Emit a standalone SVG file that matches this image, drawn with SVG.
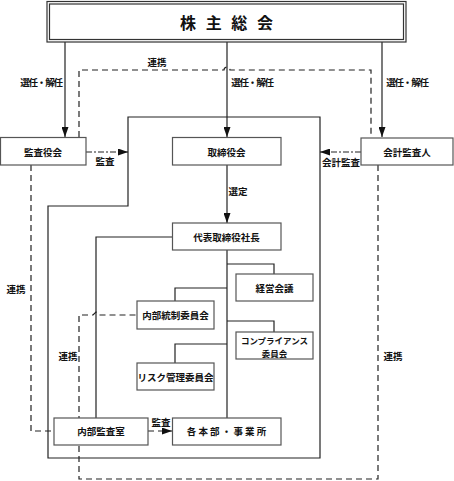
<svg xmlns="http://www.w3.org/2000/svg" width="454" height="481" viewBox="0 0 454 481">
<style>
.box{fill:#fff;stroke:#555;stroke-width:1.2}
.ln{fill:none;stroke:#222;stroke-width:1.2}
.dash{fill:none;stroke:#222;stroke-width:1.2;stroke-dasharray:6,4}
.dd{fill:none;stroke:#222;stroke-width:1.2;stroke-dasharray:6,2,2,2}
text{font-family:"Noto Sans CJK JP","Noto Sans CJK SC",sans-serif;font-size:9.5px;font-weight:bold;fill:#111;text-anchor:middle;dominant-baseline:central}
.title{font-size:16px;letter-spacing:3px}
.sel{letter-spacing:-1.2px}
.sm{font-size:8.5px}
</style>
<defs>
<marker id="ahw" viewBox="0 0 10 10" refX="10" refY="5" markerWidth="10" markerHeight="7" markerUnits="userSpaceOnUse" orient="auto" preserveAspectRatio="none">
<path d="M0,0 L10,5 L0,10 Z" fill="#111"/>
</marker>
</defs>
<g id="connectors">
<path class="ln" d="M65,42 V137" marker-end="url(#ahw)"/>
<path class="ln" d="M227,42 V137" marker-end="url(#ahw)"/>
<path class="ln" d="M382,42 V137" marker-end="url(#ahw)"/>
<path class="dash" d="M79,137 V70 H224 A3,3 0 0 1 230,70 H371 V137"/>
<path class="ln" d="M128,206 V117 H320 V458 H48 V206 Z"/>
<path class="dd" d="M86,152 H128" marker-end="url(#ahw)"/>
<path class="dd" d="M361,152 H320" marker-end="url(#ahw)"/>
<path class="ln" d="M227,165 V223" marker-end="url(#ahw)"/>
<path class="ln" d="M227,250 V418"/>
<path class="ln" d="M227,264 H274 V274"/>
<path class="ln" d="M227,321 H274 V332"/>
<path class="ln" d="M227,288 H175 V301"/>
<path class="ln" d="M227,344 H175 V363"/>
<path class="ln" d="M172,237 H96 V418"/>
<path class="dash" d="M378,165 V479 H79 V315 H93 L96,312 L99,315 H137"/>
<path class="dash" d="M31,165 V431 H54"/>
<path class="dash" d="M148,431 H172" marker-end="url(#ahw)"/>
</g>
<g id="shareholders">
<rect x="47" y="1.5" width="359" height="40.5" fill="#fff" stroke="#333" stroke-width="1.2"/>
<rect x="49.5" y="4" width="354" height="35.5" fill="none" stroke="#333" stroke-width="1.2"/>
<text class="title" x="228" y="22">株 主 総 会</text>
</g>
<g id="labels">
<text class="sel" x="41" y="82">選任・解任</text>
<text class="sel" x="252" y="82">選任・解任</text>
<text class="sel" x="407" y="82">選任・解任</text>
<text x="157" y="62">連携</text>
<text x="105" y="161">監査</text>
<text x="341" y="162">会計監査</text>
<text x="238" y="191">選定</text>
<text x="16" y="289">連携</text>
<text x="68" y="356">連携</text>
<text x="393" y="356">連携</text>
<text x="161" y="422">監査</text>
</g>
<g id="kansayakukai"><rect class="box" x="0.5" y="137.5" width="85.5" height="27.5"/><text x="43" y="152">監査役会</text></g>
<g id="torishimariyakukai"><rect class="box" x="172.5" y="137.5" width="108.5" height="27.5"/><text x="226.5" y="152">取締役会</text></g>
<g id="kaikeikansanin"><rect class="box" x="361" y="138" width="92" height="27"/><text x="407" y="152">会計監査人</text></g>
<g id="daihyo"><rect class="box" x="172.5" y="223" width="108.5" height="27"/><text x="226.5" y="237">代表取締役社長</text></g>
<g id="keieikaigi"><rect class="box" x="236" y="274" width="77" height="27"/><text x="274.5" y="288">経営会議</text></g>
<g id="naibutosei"><rect class="box" x="137" y="301" width="77" height="28"/><text x="175.5" y="315">内部統制委員会</text></g>
<g id="compliance"><rect class="box" x="236" y="332" width="77" height="27"/><text class="sm" x="274.5" y="339.5">コンプライアンス</text><text class="sm" x="274.5" y="352.5">委員会</text></g>
<g id="risk"><rect class="box" x="137" y="363" width="77" height="27"/><text x="175.5" y="377">リスク管理委員会</text></g>
<g id="naibukansa"><rect class="box" x="54" y="418" width="94" height="27"/><text x="101" y="431">内部監査室</text></g>
<g id="kakuhonbu"><rect class="box" x="172.5" y="418" width="108.5" height="27"/><text x="226.5" y="431">各 本 部 ・ 事 業 所</text></g>
</svg>
